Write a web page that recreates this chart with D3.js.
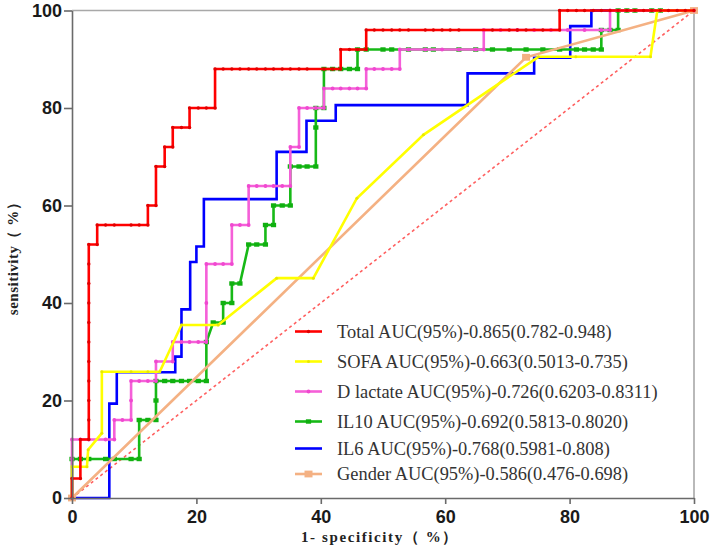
<!DOCTYPE html>
<html><head><meta charset="utf-8">
<script src="https://cdn.jsdelivr.net/npm/d3@7"></script>
<style>body{margin:0;background:#fff;} svg{display:block}</style>
</head><body>
<svg id="c" width="714" height="550"></svg>
<script>
// ---------- data ----------
const xTicks = [0, 20, 40, 60, 80, 100];
const yTicks = [0, 20, 40, 60, 80, 100];
const xTitle = "1- specificity（ %）";
const yTitle = "sensitivity（ %）";
const seriesLabels = [
  "Total AUC(95%)-0.865(0.782-0.948)",
  "SOFA AUC(95%)-0.663(0.5013-0.735)",
  "D lactate AUC(95%)-0.726(0.6203-0.8311)",
  "IL10 AUC(95%)-0.692(0.5813-0.8020)",
  "IL6 AUC(95%)-0.768(0.5981-0.808)",
  "Gender AUC(95%)-0.586(0.476-0.698)"
];
const totalROC = [[0,0],[0,4],[1.35,4],[1.35,12],[2.7,12],[2.7,16],[2.7,20],[2.7,24],[2.7,28],[2.7,32],[2.7,36],[2.7,40],[2.7,44],[2.7,48],[2.7,52],[4.05,52],[4.05,56],[5.4,56],[6.8,56],[9.5,56],[10.8,56],[12.2,56],[12.2,60],[13.5,60],[13.5,68],[14.9,68],[14.9,72],[16.2,72],[16.2,76],[17.6,76],[18.9,76],[18.9,80],[20.3,80],[21.6,80],[23.0,80],[23.0,88],[24.3,88],[25.7,88],[27.0,88],[28.4,88],[29.7,88],[31.1,88],[32.4,88],[33.8,88],[35.1,88],[36.5,88],[37.8,88],[40.5,88],[41.9,88],[43.2,88],[43.2,92],[44.6,92],[45.9,92],[47.3,92],[47.3,96],[48.6,96],[50.0,96],[51.4,96],[52.7,96],[54.1,96],[56.8,96],[58.1,96],[59.5,96],[60.8,96],[62.2,96],[67.6,96],[70.3,96],[71.6,96],[73.0,96],[75.7,96],[78.4,96],[78.4,100],[79.7,100],[81.1,100],[82.4,100],[83.8,100],[85.1,100],[86.5,100],[87.8,100],[89.2,100],[90.5,100],[91.9,100],[93.2,100],[94.6,100],[95.9,100],[97.3,100],[98.6,100],[100,100]];
const sofaROC = [[0,0],[0,6.4],[1.35,6.4],[2.4,6.4],[2.6,9.9],[4.8,13.3],[4.8,25.9],[9.5,25.9],[12.2,25.9],[14.1,25.9],[17.6,35.5],[23.5,35.5],[32.9,45.1],[38.8,45.1],[45.8,61.5],[56.5,74.5],[75.0,90.5],[81.0,90.5],[93.0,90.5],[94.1,100],[100,100]];
const dlactateROC = [[0,0],[0,8],[0,12],[1.35,12],[2.7,12],[5.4,12],[6.8,12],[6.8,16],[8.1,16],[9.5,16],[9.5,20],[9.5,24],[10.8,24],[12.2,24],[13.5,24],[13.5,28],[16.2,28],[16.2,32],[17.6,32],[18.9,32],[20.3,32],[21.6,32],[21.6,40],[21.6,48],[23.0,48],[24.3,48],[25.7,48],[25.7,56],[27.0,56],[28.4,56],[28.4,64],[29.7,64],[31.1,64],[32.4,64],[33.8,64],[35.1,64],[35.1,72],[36.5,72],[36.5,80],[37.8,80],[39.2,80],[40.5,80],[40.5,84],[41.9,84],[43.2,84],[44.6,84],[45.9,84],[47.3,84],[47.3,88],[48.6,88],[50.0,88],[51.4,88],[52.7,88],[52.7,92],[54.1,92],[56.8,92],[59.5,92],[62.2,92],[64.9,92],[66.2,92],[66.2,96],[68.9,96],[71.6,96],[74.3,96],[77.0,96],[79.7,96],[82.4,96],[85.1,96],[86.5,96],[86.5,100],[100,100]];
const il10ROC = [[0,0],[0,8],[1.35,8],[2.7,8],[5.4,8],[6.8,8],[9.5,8],[10.8,8],[10.8,16],[12.2,16],[13.5,16],[13.5,20],[13.5,24],[14.9,24],[16.2,24],[17.6,24],[18.9,24],[20.3,24],[21.6,24],[21.6,32],[22.7,36],[24.3,36],[24.3,40],[25.7,40],[25.7,44],[27.0,44],[28.4,52],[29.7,52],[31.1,52],[31.1,56],[32.4,56],[32.4,60],[33.8,60],[35.1,60],[35.1,68],[36.5,68],[37.8,68],[39.2,68],[39.2,76],[39.2,80],[40.5,80],[40.5,88],[41.9,88],[43.2,88],[44.6,88],[45.9,88],[45.9,92],[47.3,92],[50.0,92],[51.4,92],[54.1,92],[56.8,92],[58.1,92],[62.2,92],[64.9,92],[67.6,92],[70.3,92],[73.0,92],[75.7,92],[78.4,92],[81.1,92],[82.4,92],[83.8,92],[85.1,92],[85.1,96],[86.5,96],[87.8,96],[87.8,100],[89.2,100],[90.5,100],[93.2,100],[94.6,100],[100,100]];
const il6ROC = [[0,0],[2.0,0],[3.5,0],[6.0,0],[6.0,19.35],[7.2,19.35],[7.2,25.8],[14.4,25.8],[16.6,25.8],[16.6,29.0],[17.6,29.0],[17.6,38.7],[19.0,38.7],[19.0,48.4],[20.0,48.4],[20.0,51.6],[21.2,51.6],[21.2,61.3],[32.9,61.3],[32.9,71.0],[37.7,71.0],[37.7,77.4],[42.4,77.4],[42.4,80.6],[63.6,80.6],[63.6,87.1],[74.3,87.1],[74.3,90.3],[80.1,90.3],[80.1,96.8],[83.5,96.8],[83.5,100],[100,100]];
const genderROC = [[0,0],[73.0,90.4],[100,100]];
const referenceLine = [[0,0],[100,100]];

// ---------- layout ----------
const svg = d3.select("#c");
const x = d3.scaleLinear().domain([0,100]).range([72,694]);
const y = d3.scaleLinear().domain([0,100]).range([498,10.5]);

const series = [
  {data: totalROC,    color:"#ff0000", mark:"circle", r:1.7, mcolor:"#e00000"},
  {data: sofaROC,     color:"#ffff00", mark:"circle", r:1.5, mcolor:"#e8e800"},
  {data: dlactateROC, color:"#f55fd8", mark:"circle", r:1.9, mcolor:"#f048d0"},
  {data: il10ROC,     color:"#17b917", mark:"square", r:2.6, mcolor:"#10b010"},
  {data: il6ROC,      color:"#0000ff", mark:"none"},
  {data: genderROC,   color:"#f4b183", mark:"square", r:4,   mcolor:"#f4b183"}
];
series.forEach((s,i)=>s.label = seriesLabels[i]);

// frame (top and right)
svg.append("path")
  .attr("d", `M${x(0)},${y(100)}H${x(100)}V${y(0)}`)
  .attr("fill","none").attr("stroke","#a8a8a8").attr("stroke-width",1.6);

// reference diagonal
const line = d3.line().x(d=>x(d[0])).y(d=>y(d[1]));
svg.append("path").datum(referenceLine).attr("d", line)
  .attr("fill","none").attr("stroke","#ff6060").attr("stroke-width",1.6)
  .attr("stroke-dasharray","3,3");

// draw order
const order = [4,3,5,2,1,0];
function drawMarks(g, s, pts){
  if (s.mark === "circle") {
    g.selectAll("circle").data(pts).join("circle")
      .attr("cx", d=>d[0]).attr("cy", d=>d[1]).attr("r", s.r).attr("fill", s.mcolor);
  } else if (s.mark === "square") {
    g.selectAll("rect").data(pts).join("rect")
      .attr("x", d=>d[0]-s.r).attr("y", d=>d[1]-s.r*0.85)
      .attr("width", s.r*2).attr("height", s.r*1.7).attr("fill", s.mcolor);
  }
}
order.forEach(i=>{
  const s = series[i];
  const g = svg.append("g");
  g.append("path").datum(s.data).attr("d", line)
    .attr("fill","none").attr("stroke", s.color).attr("stroke-width", 2.6)
    .attr("stroke-linejoin","miter");
  drawMarks(g, s, s.data.map(d=>[x(d[0]), y(d[1])]));
});

// axes
const yAxis = svg.append("g").attr("transform",`translate(${x(0)},0)`)
  .call(d3.axisLeft(y).tickValues(yTicks).tickSize(8).tickSizeOuter(0).tickPadding(2));
const xAxis = svg.append("g").attr("transform",`translate(0,${y(0)})`)
  .call(d3.axisBottom(x).tickValues(xTicks).tickSize(6).tickSizeOuter(0).tickPadding(6));
[yAxis, xAxis].forEach(a=>{
  a.select(".domain").attr("stroke","#6a6a6a").attr("stroke-width",1.6);
  a.selectAll(".tick line").attr("stroke","#6a6a6a").attr("stroke-width",1.6);
  a.selectAll(".tick text").attr("fill","#1a1a1a")
    .style("font-family","'Liberation Sans', Arial, sans-serif")
    .style("font-weight","bold").style("font-size","18px");
});

// axis titles
svg.append("text").attr("x", 380).attr("y", 542).attr("text-anchor","middle")
  .style("font-family","'Liberation Serif','Times New Roman',serif")
  .style("font-weight","bold").style("font-size","15px").style("letter-spacing","1.6px")
  .attr("fill","#222")
  .text(xTitle);
svg.append("text").attr("transform","translate(18,255) rotate(-90)").attr("text-anchor","middle")
  .style("font-family","'Liberation Serif','Times New Roman',serif")
  .style("font-weight","bold").style("font-size","15px").style("letter-spacing","0.5px")
  .attr("fill","#222")
  .text(yTitle);

// legend
const legendY = [331.5, 361.5, 391.5, 421.5, 448.5, 474];
series.forEach((s,i)=>{
  const g = svg.append("g").attr("transform",`translate(0,${legendY[i]})`);
  g.append("line").attr("x1",295).attr("x2",322).attr("y1",0).attr("y2",0)
    .attr("stroke", s.color).attr("stroke-width",2.6);
  drawMarks(g, s, [[308.5,0]]);
  g.append("text").attr("x",337).attr("y",0).attr("dy","0.35em")
    .style("font-family","'Liberation Serif','Times New Roman',serif")
    .style("font-size","18.4px").attr("fill","#333")
    .text(s.label);
});
</script>
</body></html>
